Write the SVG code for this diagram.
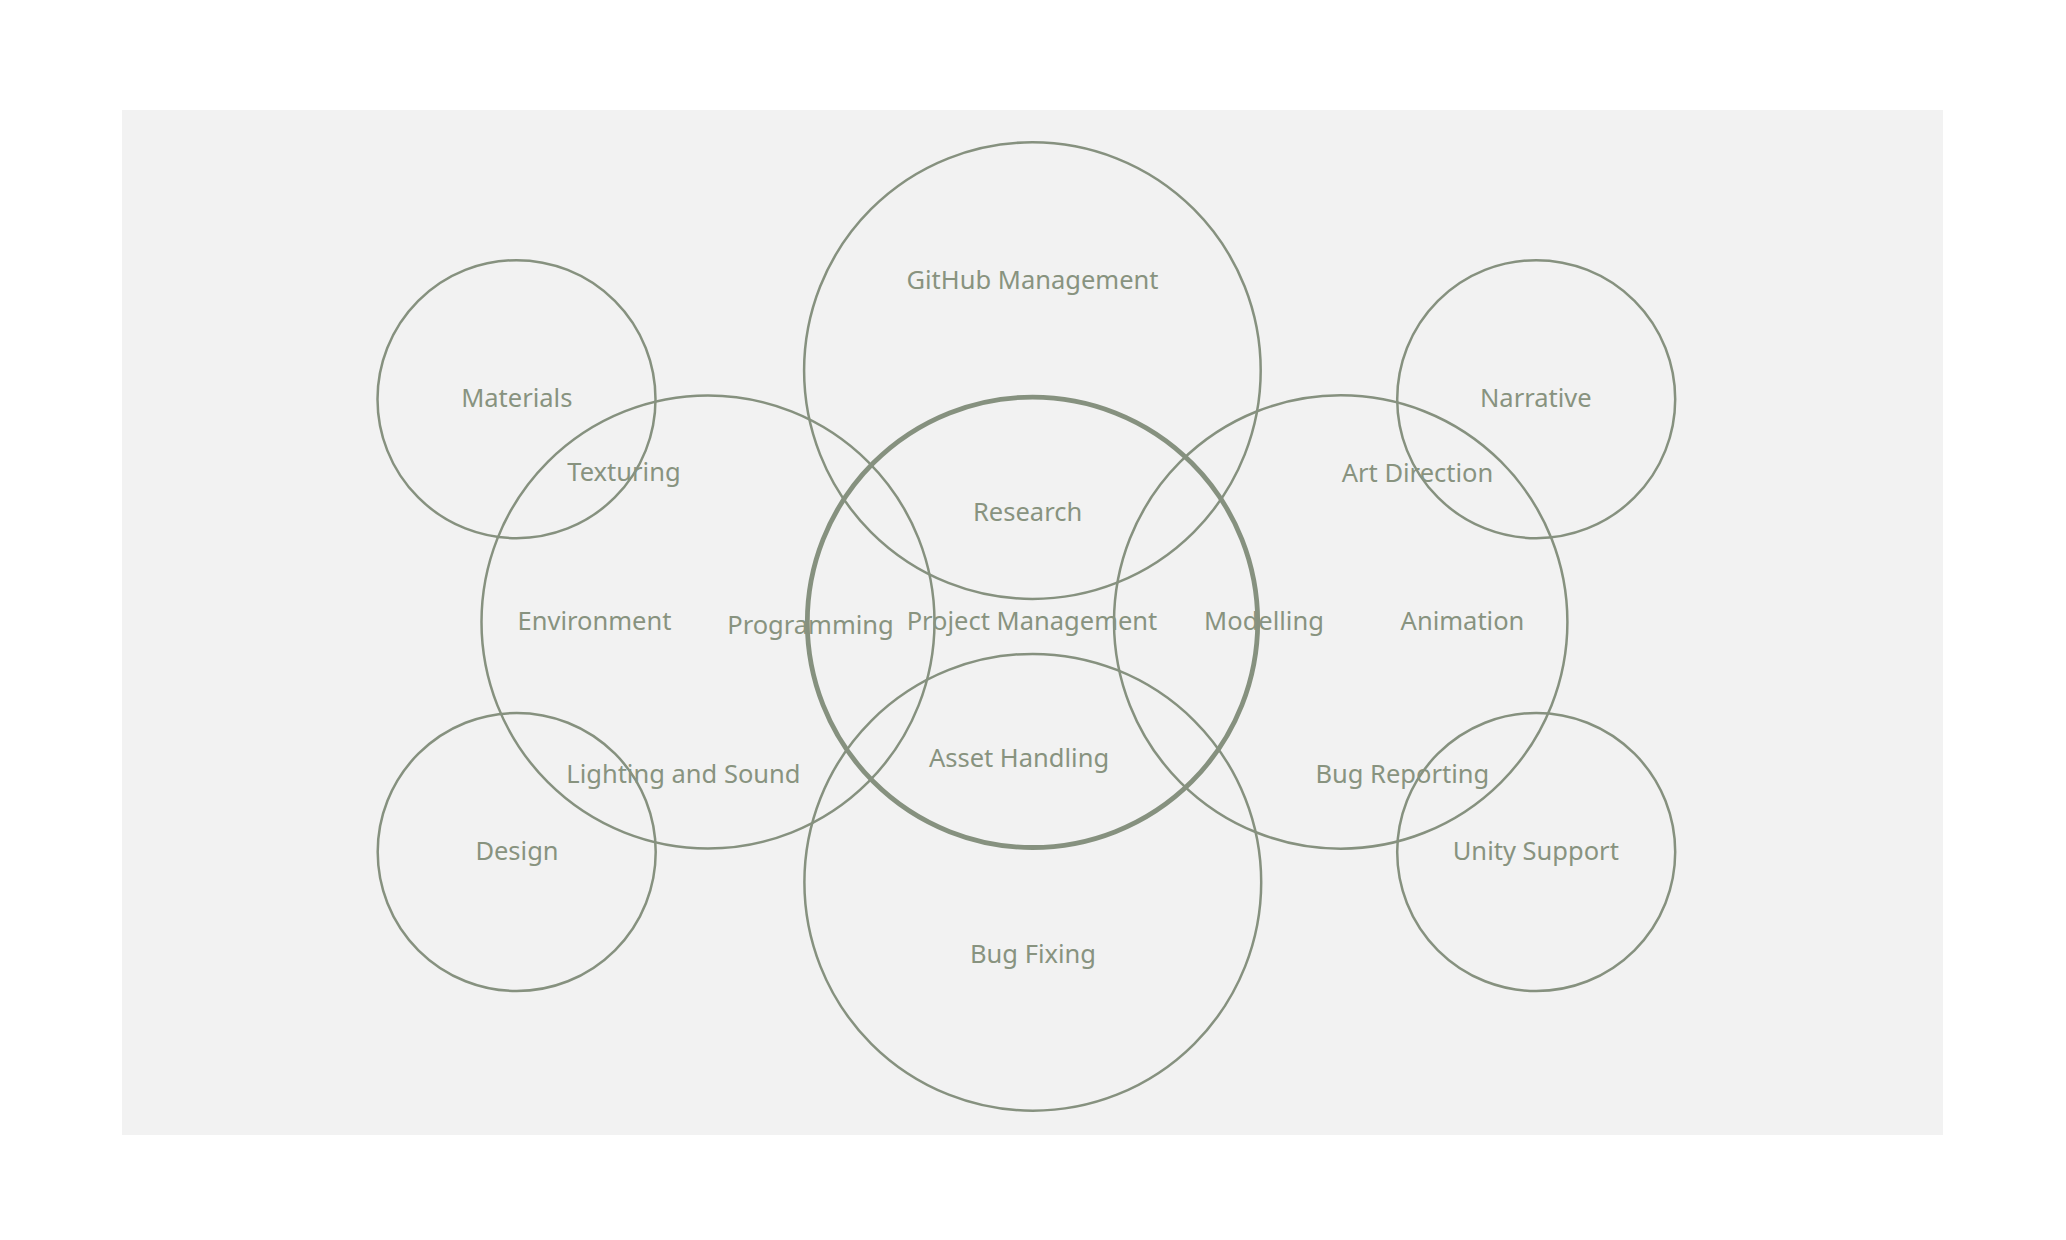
<svg xmlns="http://www.w3.org/2000/svg" width="2066" height="1240" viewBox="0 0 2066 1240">
  <style>
    .ring { fill: none; stroke: #86917f; stroke-width: 2.5; }
    .core { fill: none; stroke: #86917f; stroke-width: 4.8; }
    .lbl { font-family: "Noto Sans", "Open Sans", sans-serif; font-size: 25.5px; fill: #88937f; text-anchor: middle; }
  </style>
  <rect x="0" y="0" width="2066" height="1240" fill="#ffffff"/>
  <rect id="panel" x="122" y="110" width="1821" height="1025" fill="#f2f2f2"/>

  <!-- outer satellites -->
  <g id="materials"><circle class="ring" cx="516.5" cy="399.2" r="139"/><text class="lbl" x="516.8" y="406.7">Materials</text></g>
  <g id="design"><circle class="ring" cx="516.7" cy="852" r="139"/><text class="lbl" x="517" y="860">Design</text></g>
  <g id="narrative"><circle class="ring" cx="1536.2" cy="399.2" r="139"/><text class="lbl" x="1535.8" y="406.7">Narrative</text></g>
  <g id="unity-support"><circle class="ring" cx="1536.2" cy="852" r="139"/><text class="lbl" x="1535.8" y="860">Unity Support</text></g>

  <!-- large circles -->
  <g id="environment"><circle class="ring" cx="708" cy="622" r="226.5"/><text class="lbl" x="594.5" y="630">Environment</text></g>
  <g id="animation"><circle class="ring" cx="1340.7" cy="622" r="226.7"/><text class="lbl" x="1462.5" y="630">Animation</text></g>
  <g id="github-management"><circle class="ring" cx="1032.4" cy="370.6" r="228.3"/><text class="lbl" x="1032.5" y="289.3">GitHub Management</text></g>
  <g id="bug-fixing"><circle class="ring" cx="1032.8" cy="882.3" r="228.4"/><text class="lbl" x="1033" y="962.7">Bug Fixing</text></g>

  <!-- central circle -->
  <g id="project-management"><circle class="core" cx="1032.5" cy="622.3" r="225.2"/><text class="lbl" x="1032" y="630">Project Management</text></g>

  <!-- overlap labels -->
  <g id="overlaps">
    <text id="texturing" class="lbl" x="624" y="480.7">Texturing</text>
    <text id="art-direction" class="lbl" x="1417.5" y="481.5">Art Direction</text>
    <text id="research" class="lbl" x="1027.6" y="520.5">Research</text>
    <text id="programming" class="lbl" x="810.5" y="634">Programming</text>
    <text id="modelling" class="lbl" x="1264" y="630">Modelling</text>
    <text id="asset-handling" class="lbl" x="1019" y="766.7">Asset Handling</text>
    <text id="lighting-and-sound" class="lbl" x="683.4" y="783.3">Lighting and Sound</text>
    <text id="bug-reporting" class="lbl" x="1402.3" y="783.3">Bug Reporting</text>
  </g>
</svg>
